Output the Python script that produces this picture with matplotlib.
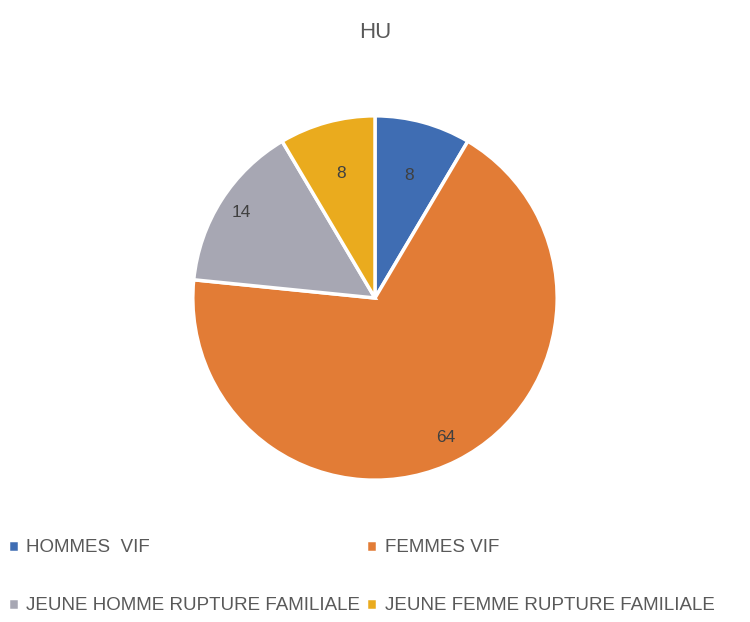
import numpy as np
import matplotlib
matplotlib.use("Agg")
import matplotlib.pyplot as plt

# data
categories = ["HOMMES  VIF", "FEMMES VIF", "JEUNE HOMME RUPTURE FAMILIALE", "JEUNE FEMME RUPTURE FAMILIALE"]
values = [8, 64, 14, 8]
colors = ["#3f6db3", "#e27c36", "#a7a7b3", "#eaab1e"]
label_dist = [0.70, 0.86, 0.87, 0.71]

plt.rcParams['font.family'] = ['Liberation Sans Narrow', 'Liberation Sans', 'DejaVu Sans']

fig = plt.figure(figsize=(7.5, 6.22), dpi=100)

# pie axes: centre ~ (375, 298) px, radius ~ 184 px
r_px = 184
cy = 622 - 298
ax = fig.add_axes([(375 - r_px) / 750, (cy - r_px) / 622, 2 * r_px / 750, 2 * r_px / 622])
wedges, _ = ax.pie(values, colors=colors, startangle=90, counterclock=False,
                   wedgeprops=dict(edgecolor="white", linewidth=2.5))
ax.set_xlim(-1.01, 1.01)
ax.set_ylim(-1.01, 1.01)
ax.set_aspect("equal")

# value labels inside each slice
for w, v, d in zip(wedges, values, label_dist):
    mid = np.deg2rad((w.theta1 + w.theta2) / 2)
    ax.text(d * np.cos(mid), d * np.sin(mid), str(v), ha="center", va="center",
            fontsize=12.5, color="#404040")

fig.text(0.5, 1 - 32 / 622, "HU", ha="center", va="center", fontsize=16, color="#595959")

# legend filled row by row, like the original
order = [0, 2, 1, 3]
leg = fig.legend([wedges[i] for i in order], [categories[i] for i in order],
                 loc="lower left", bbox_to_anchor=(0.0, 0.0),
                 ncol=2, frameon=False, fontsize=13.5, labelcolor="#595959",
                 handlelength=0.6, handleheight=0.6, handletextpad=0.4,
                 columnspacing=0.3, labelspacing=2.2, borderaxespad=0.0)

fig.savefig("out.png", dpi=100, facecolor="white")
